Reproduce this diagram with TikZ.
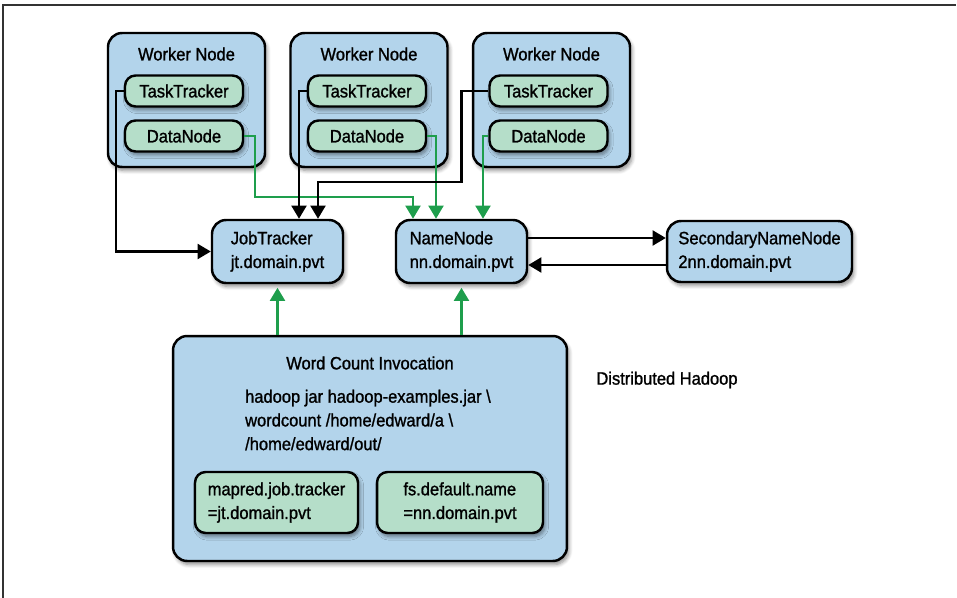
\documentclass[tikz,border=0pt]{standalone}
\usepackage{fontspec}
\setmainfont{Liberation Sans}[FakeStretch=0.92, FakeBold=1.2]
\usetikzlibrary{arrows.meta,calc,shadows.blur}
\definecolor{boxblue}{HTML}{B3D4EB}
\definecolor{boxgreen}{HTML}{B5DEC9}
\definecolor{linegreen}{HTML}{1E9E4C}
\tikzset{
    every node/.style={font=\fontsize{10.2}{13.5}\selectfont, inner sep=0pt},
    bluebox/.style={draw, line width=1.4pt, rounded corners=8pt, fill=boxblue,
        blur shadow={shadow xshift=0.4mm, shadow yshift=-0.7mm, shadow blur steps=6, shadow opacity=45}},
    greenbox/.style={bluebox, fill=boxgreen, rounded corners=6pt, minimum width=2.36cm, minimum height=0.62cm},
    blk/.style={line width=1.4pt, -{Triangle[length=7.5pt, width=8.5pt]}},
    grn/.style={blk, color=linegreen},
}
\begin{document}
\begin{tikzpicture}[x=0.02cm, y=-0.02cm]
    \useasboundingbox(0,0)rectangle(957,598);
    \draw[line width=1.1pt, black!80](3,598)--(3,5)--(956,5);
    \node[bluebox, minimum width=3.14cm, minimum height=2.68cm](w1)at(186.5,100){};
    \node[bluebox, minimum width=3.14cm, minimum height=2.68cm](w2)at(369,100){};
    \node[bluebox, minimum width=3.14cm, minimum height=2.68cm](w3)at(551.5,100){};
    \node(wt1)at(186.5,54){Worker Node};
    \node(wt2)at(369,54){Worker Node};
    \node(wt3)at(551.5,54){Worker Node};
    \node[greenbox](tt1)at(184,91){TaskTracker};
    \node[greenbox](dn1)at(184,136){DataNode};
    \node[greenbox](tt2)at(367,91){TaskTracker};
    \node[greenbox](dn2)at(367,136){DataNode};
    \node[greenbox](tt3)at(548.5,91){TaskTracker};
    \node[greenbox](dn3)at(548.5,136){DataNode};
    \node[bluebox, minimum width=2.62cm, minimum height=1.26cm, align=left](jt)at(277.5,251.5){JobTracker\\jt.domain.pvt};
    \node[bluebox, minimum width=2.62cm, minimum height=1.26cm, align=left](nn)at(461.5,251.5){NameNode\\nn.domain.pvt};
    \node[bluebox, minimum width=3.7cm, minimum height=1.22cm, align=left](snn)at(759.5,251.5){SecondaryNameNode\\2nn.domain.pvt};
    \node[bluebox, minimum width=7.88cm, minimum height=4.5cm](wc)at(370,448.5){};
    \node(wct)at(370,363){Word Count Invocation};
    \node[align=left](cmd)at(368,420){hadoop jar hadoop-examples.jar \textbackslash\\wordcount /home/edward/a \textbackslash\\/home/edward/out/};
    \node[greenbox, minimum width=3.26cm, minimum height=1.22cm, align=left](mp)at(276.5,502.5){mapred.job.tracker\\=jt.domain.pvt};
    \node[greenbox, minimum width=3.32cm, minimum height=1.22cm, align=left](fs)at(460,502.5){fs.default.name\\=nn.domain.pvt};
    \node(dh)at(667,380){Distributed Hadoop};
    \draw[blk](tt1.west)--++(-8,0)|-(jt.west);
    \draw[grn](dn1.east)--++(11,0)|-($(nn.north)+(-48.5,-22)$)--($(nn.north)+(-48.5,0)$);
    \draw[blk](tt2.west)-|($(jt.north)+(21.5,0)$);
    \draw[grn](dn2.east)-|($(nn.north)+(-25.5,0)$);
    \draw[blk](tt3.west)--++(-27,0)|-($(jt.north)+(40.5,-37)$)--($(jt.north)+(40.5,0)$);
    \draw[grn](dn3.west)-|($(nn.north)+(21.5,0)$);
    \draw[blk]($(nn.east)+(0,-13.5)$)--($(snn.west)+(0,-13.5)$);
    \draw[blk]($(snn.west)+(0,13.5)$)--($(nn.east)+(0,13.5)$);
    \draw[grn](wc.north-|jt.south)--([yshift=-2pt]jt.south);
    \draw[grn](wc.north-|nn.south)--([yshift=-2pt]nn.south);
\end{tikzpicture}
\end{document}
